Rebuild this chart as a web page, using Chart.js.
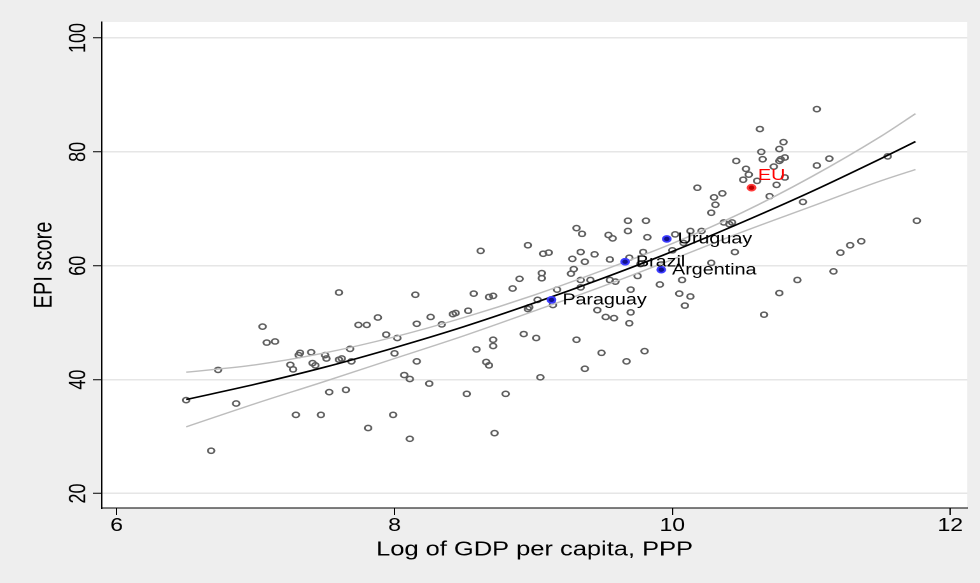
<!DOCTYPE html>
<html>
<head>
<meta charset="utf-8">
<script src="https://cdn.jsdelivr.net/npm/chart.js@4.4.1/dist/chart.umd.min.js"></script>
<style>
  html, body { margin: 0; padding: 0; background: #eeeeee; }
</style>
</head>
<body>
<!-- drawn at 770 units wide, shown 980px wide (graph exported with a wider aspect) -->
<canvas id="epi" width="770" height="583" style="display:block;width:980px;height:583px"></canvas>
<script>
// Countries: log GDP per capita (PPP) and EPI score
const gdpLog = [
  7.60, 7.05, 7.08, 7.14, 7.32, 7.31, 7.40, 7.50, 7.51, 7.25, 7.27, 7.41, 7.43, 7.60, 7.62, 7.68,
  6.73, 6.50, 6.86, 7.53, 7.65, 7.29, 7.47, 6.68,
  9.31, 8.96, 8.62, 9.07, 9.11, 9.28, 9.34, 9.06, 9.06, 8.90, 9.27, 9.29,
  8.15, 8.57, 8.68, 8.71, 8.85, 9.17, 7.88, 7.74, 7.80, 8.26, 8.42, 8.44, 8.53, 8.16, 8.34,
  8.97, 8.96, 9.03, 9.14, 7.94, 8.02, 7.69, 8.00, 8.16, 8.59, 8.71, 8.71, 8.93, 9.02, 9.31,
  8.66, 8.68, 8.07, 8.11, 8.25, 9.05, 8.52, 8.80, 7.99, 7.81, 8.11, 8.72,
  10.31, 10.28, 9.35, 9.68, 9.81, 9.68, 9.54, 9.57, 9.82, 10.02, 10.13, 10.21, 10.37, 10.43, 10.41,
  10.94, 10.08, 10.00, 10.45, 9.44, 9.37, 9.55, 9.79, 9.69, 9.77, 10.28,
  9.34, 9.41, 9.34, 9.55, 9.59, 9.75, 10.07, 9.70, 9.91, 10.05, 10.13, 10.09, 10.90, 10.77, 10.66,
  9.46, 9.70, 9.52, 9.58, 9.69, 9.49, 9.80, 9.67, 9.37,
  11.04, 10.63, 10.80, 10.77, 10.64, 10.65, 10.46, 10.77, 10.78, 10.81, 11.13, 11.04, 10.53, 10.55,
  10.73, 10.51, 10.61, 10.81, 10.75, 10.70, 10.18, 10.30, 10.36, 11.55,
  11.76, 11.36, 11.28, 11.21, 11.16
];
const epiScore = [
  55.3, 49.3, 46.5, 46.7, 44.7, 44.3, 44.8, 44.3, 43.7, 42.6, 41.8, 42.9, 42.5, 43.5, 43.7, 45.4,
  41.7, 36.4, 35.8, 37.8, 38.2, 33.8, 33.8, 27.5,
  66.6, 63.6, 62.6, 62.1, 62.3, 61.2, 62.4, 58.7, 57.8, 57.7, 58.6, 59.4,
  54.9, 55.1, 54.5, 54.7, 56.0, 55.8, 50.9, 49.6, 49.6, 51.0, 51.5, 51.7, 52.1, 49.8, 49.7,
  52.7, 52.4, 54.0, 53.1, 47.9, 47.3, 43.2, 44.6, 43.2, 45.3, 47.0, 45.9, 48.0, 47.3, 47.0,
  43.1, 42.5, 40.8, 40.1, 39.3, 40.4, 37.5, 37.5, 33.8, 31.5, 29.6, 30.6,
  70.7, 69.3, 65.6, 67.9, 67.9, 66.1, 65.4, 64.8, 65.0, 65.5, 66.1, 66.1, 67.6, 67.6, 67.3,
  71.2, 64.0, 62.7, 62.4, 62.0, 60.7, 61.1, 62.4, 61.4, 60.3, 60.5,
  57.5, 57.5, 56.2, 57.5, 57.2, 58.2, 57.5, 55.8, 56.7, 55.1, 54.6, 53.0, 57.5, 55.2, 51.4,
  52.2, 51.8, 51.0, 50.8, 49.9, 44.7, 45.0, 43.2, 41.9,
  87.5, 84.0, 81.7, 80.5, 80.0, 78.7, 78.4, 78.4, 78.7, 79.0, 78.8, 77.6, 77.0, 76.0,
  77.4, 75.1, 74.9, 75.5, 74.2, 72.2, 73.7, 72.0, 72.7, 79.2,
  67.9, 64.3, 63.6, 62.3, 59.0
];

// Labelled countries
const hlNames = ['Paraguay', 'Brazil', 'Uruguay', 'Argentina'];
const hlGdp = [9.13, 9.66, 9.96, 9.92];
const hlEpi = [54.0, 60.7, 64.7, 59.3];

// European Union aggregate
const euNames = ['EU'];
const euGdp = [10.57];
const euEpi = [73.7];

// Quadratic fit with 95% confidence band
const fitGdp   = [6.5, 7.0, 7.5, 8.0, 8.5, 9.0, 9.5, 10.0, 10.5, 11.0, 11.5, 11.75];
const fitEpi   = [36.5, 39.2, 42.2, 45.6, 49.3, 53.4, 57.8, 62.5, 67.6, 73.0, 78.8, 81.8];
const ciUpper  = [41.3, 42.6, 44.7, 47.5, 50.9, 54.8, 59.2, 63.9, 69.3, 75.6, 82.7, 86.7];
const ciLower  = [31.7, 35.8, 39.7, 43.7, 47.7, 52.0, 56.4, 61.1, 65.9, 70.4, 74.9, 76.9];

// Axis ticks
const xTicks = [6, 8, 10, 12];
const yTicks = [20, 40, 60, 80, 100];

const FONT = '"Liberation Sans", Arial, Helvetica, sans-serif';
const zip = (xs, ys) => xs.map((x, i) => ({ x: x, y: ys[i] }));

const backdrop = {
  id: 'backdrop',
  beforeDraw(chart) {
    const { ctx, chartArea: a } = chart;
    ctx.save();
    ctx.fillStyle = '#eeeeee';
    ctx.fillRect(0, 0, chart.width, chart.height);
    ctx.fillStyle = '#ffffff';
    ctx.fillRect(a.left, a.top, a.right - a.left, a.bottom - a.top);
    ctx.restore();
  }
};

const annotations = {
  id: 'annotations',
  afterDraw(chart) {
    const { ctx, chartArea: a } = chart;
    const ys = chart.scales.y;
    ctx.save();
    // vertical y tick labels
    ctx.fillStyle = '#000';
    ctx.font = '18px ' + FONT;
    ctx.textAlign = 'center';
    ctx.textBaseline = 'middle';
    yTicks.forEach(v => {
      ctx.save();
      ctx.translate(a.left - 18, ys.getPixelForValue(v));
      ctx.rotate(-Math.PI / 2);
      ctx.fillText(String(v), 0, 0);
      ctx.restore();
    });
    // marker labels
    ctx.font = '15.5px ' + FONT;
    ctx.textAlign = 'left';
    chart.getDatasetMeta(4).data.forEach((pt, i) => {
      ctx.fillStyle = '#000';
      ctx.fillText(hlNames[i], pt.x + 8.5, pt.y + 0.5);
    });
    chart.getDatasetMeta(5).data.forEach((pt, i) => {
      ctx.fillStyle = '#ff0000';
      ctx.fillText(euNames[i], pt.x + 5, pt.y - 12);
    });
    ctx.restore();
  }
};

new Chart(document.getElementById('epi'), {
  type: 'scatter',
  data: {
    datasets: [
      {
        label: 'Countries',
        data: zip(gdpLog, epiScore),
        pointStyle: 'circle',
        pointRadius: 2.6,
        pointBorderWidth: 1.5,
        pointBorderColor: '#5e5e5e',
        pointBackgroundColor: 'rgba(0,0,0,0)',
        pointHoverRadius: 2.6,
        order: 4
      },
      {
        label: 'Upper 95% CI',
        data: zip(fitGdp, ciUpper),
        showLine: true,
        borderColor: '#bdbdbd',
        borderWidth: 1.4,
        pointRadius: 0,
        cubicInterpolationMode: 'monotone',
        order: 3
      },
      {
        label: 'Lower 95% CI',
        data: zip(fitGdp, ciLower),
        showLine: true,
        borderColor: '#bdbdbd',
        borderWidth: 1.4,
        pointRadius: 0,
        cubicInterpolationMode: 'monotone',
        order: 3
      },
      {
        label: 'Fitted values',
        data: zip(fitGdp, fitEpi),
        showLine: true,
        borderColor: '#000000',
        borderWidth: 1.6,
        pointRadius: 0,
        cubicInterpolationMode: 'monotone',
        order: 2
      },
      {
        label: 'Mercosur',
        data: zip(hlGdp, hlEpi),
        pointStyle: 'circle',
        pointRadius: 3,
        pointBorderWidth: 1.7,
        pointBorderColor: '#3a3aff',
        pointBackgroundColor: '#10108a',
        order: 1
      },
      {
        label: 'EU',
        data: zip(euGdp, euEpi),
        pointStyle: 'circle',
        pointRadius: 3,
        pointBorderWidth: 1.7,
        pointBorderColor: '#ff3a3a',
        pointBackgroundColor: '#c00000',
        order: 1
      }
    ]
  },
  options: {
    responsive: false,
    devicePixelRatio: 2,
    animation: false,
    events: [],
    layout: { padding: { left: 0, right: 10, top: 22, bottom: 0 } },
    plugins: {
      legend: { display: false },
      tooltip: { enabled: false }
    },
    scales: {
      x: {
        type: 'linear',
        min: 5.893,
        max: 12.123,
        afterBuildTicks: s => { s.ticks = xTicks.map(v => ({ value: v })); },
        afterFit: s => { s.height = 75; },
        ticks: {
          autoSkip: false,
          maxRotation: 0,
          padding: 0,
          color: '#000',
          font: { family: FONT, size: 18 },
          callback: v => String(v)
        },
        grid: { drawOnChartArea: false, drawTicks: true, tickLength: 7, tickColor: '#000', tickWidth: 1 },
        border: { display: true, color: '#000', width: 1 },
        title: {
          display: true,
          text: 'Log of GDP per capita, PPP',
          color: '#000',
          font: { family: FONT, size: 20 },
          padding: { top: 0, bottom: 21 }
        }
      },
      y: {
        type: 'linear',
        min: 17.45,
        max: 102.8,
        afterBuildTicks: s => { s.ticks = yTicks.map(v => ({ value: v })); },
        afterFit: s => { s.width = 80; },
        ticks: { display: false },
        grid: {
          color: '#e6e6e6',
          lineWidth: 1.5,
          drawTicks: true,
          tickLength: 7,
          tickColor: '#000',
          tickWidth: 1
        },
        border: { display: true, color: '#000', width: 1 },
        title: {
          display: true,
          text: 'EPI score',
          color: '#000',
          font: { family: FONT, size: 20 },
          padding: { top: 23, bottom: 0 }
        }
      }
    }
  },
  plugins: [backdrop, annotations]
});
</script>
</body>
</html>
